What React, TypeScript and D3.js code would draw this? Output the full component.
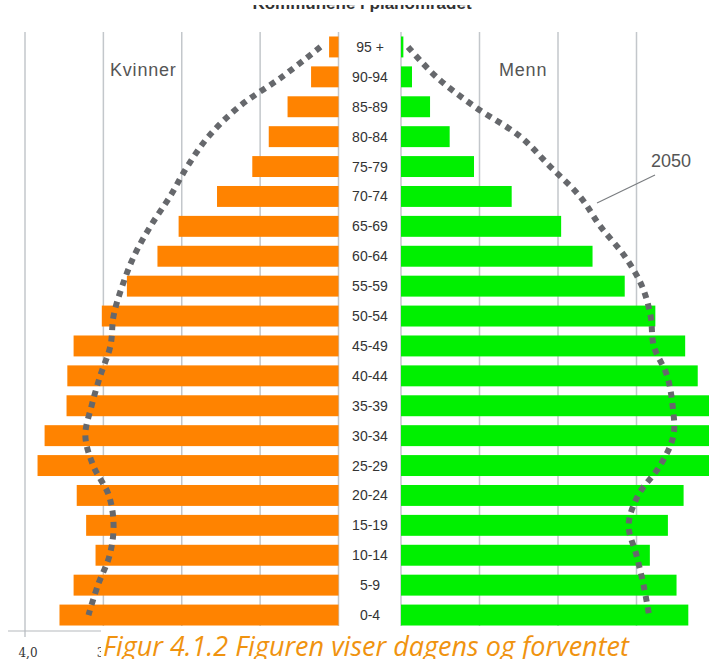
import React from "react";
import * as d3 from "d3";

const ages = ["95 +","90-94","85-89","80-84","75-79","70-74","65-69","60-64","55-59","50-54","45-49","40-44","35-39","30-34","25-29","20-24","15-19","10-14","5-9","0-4"];
const women = [0.12,0.35,0.65,0.89,1.10,1.55,2.04,2.31,2.70,3.02,3.38,3.46,3.47,3.75,3.84,3.34,3.22,3.10,3.38,3.56];
const men = [0.03,0.14,0.37,0.62,0.93,1.41,2.04,2.44,2.85,3.24,3.62,3.78,4.0,4.05,4.1,3.60,3.40,3.17,3.51,3.66];
const women2050 = [0.23,0.72,1.27,1.66,1.93,2.15,2.40,2.61,2.76,2.87,2.91,3.04,3.15,3.23,3.13,2.93,2.87,2.92,3.07,3.19];
const men2050 = [0.09,0.45,0.94,1.52,1.90,2.28,2.54,2.85,3.07,3.18,3.22,3.39,3.46,3.47,3.30,3.02,2.90,3.00,3.09,3.16];
const gridValues = [1,2,3,4];
const tickValues = [4,3];
const tickLabels = ["4,0","3,0"];
const titleText = "Kommunene i planområdet";
const captionText = "Figur 4.1.2 Figuren viser dagens og forventet";

const W = 709, H = 659;

export default function App() {
  const y = d3.scaleBand<string>().domain(ages).range([32, 630]).paddingInner(0.3).paddingOuter(0.15);
  const xl = d3.scaleLinear().domain([0, 4]).range([338.5, 25]);
  const xr = d3.scaleLinear().domain([0, 4]).range([401, 715]);
  const bw = y.bandwidth();
  const cy = (a: string) => (y(a) as number) + bw / 2;

  const lineL = d3.line<number>()
    .x((d) => xl(d))
    .y((_, i) => cy(ages[i]))
    .curve(d3.curveCatmullRom.alpha(0.5));
  const lineR = d3.line<number>()
    .x((d) => xr(d))
    .y((_, i) => cy(ages[i]))
    .curve(d3.curveCatmullRom.alpha(0.5));

  const grid = "#c3c7cb";
  return (
    <svg width={W} height={H} style={{ position: "absolute", left: 0, top: 0, background: "#fff" }}>
      <rect x={0} y={0} width={W} height={H} fill="#fff" />
      {/* title (cut off at top edge) */}
      <text x={362} y={9} textAnchor="middle" fontFamily="Liberation Sans, Arial, sans-serif" fontWeight="bold" fontSize={17} fill="#333">{titleText}</text>
      <rect x={0} y={0} width={W} height={5} fill="#fff" />

      {/* gridlines */}
      {gridValues.map((v) => (
        <line key={"gl" + v} x1={xl(v)} x2={xl(v)} y1={32} y2={v === 4 ? 637 : 630} stroke={grid} strokeWidth={1.5} />
      ))}
      {gridValues.map((v) => (
        <line key={"gr" + v} x1={xr(v)} x2={xr(v)} y1={32} y2={630} stroke={grid} strokeWidth={1.5} />
      ))}
      <line x1={xl(0)} x2={xl(0)} y1={32} y2={630} stroke={grid} strokeWidth={1.5} />
      <line x1={xr(0)} x2={xr(0)} y1={32} y2={630} stroke={grid} strokeWidth={1.5} />
      <line x1={8} x2={xl(0)} y1={631} y2={631} stroke="#b5b9bd" strokeWidth={1.2} />

      {/* bars */}
      {ages.map((a, i) => (
        <rect key={"w" + a} x={xl(women[i])} y={y(a)} width={xl(0) - xl(women[i])} height={bw} fill="#FF8300" />
      ))}
      {ages.map((a, i) => (
        <rect key={"m" + a} x={xr(0)} y={y(a)} width={xr(men[i]) - xr(0)} height={bw} fill="#00F000" />
      ))}

      {/* age labels */}
      {ages.map((a) => (
        <text key={"l" + a} x={370} y={cy(a) + 5} textAnchor="middle" fontFamily="Liberation Sans, Arial, sans-serif" fontSize={14} fill="#333">{a}</text>
      ))}

      {/* 2050 lines */}
      <path d={lineL(women2050) || ""} fill="none" stroke="#66686c" strokeWidth={6} strokeDasharray="6 5.5" />
      <path d={lineR(men2050) || ""} fill="none" stroke="#66686c" strokeWidth={6} strokeDasharray="6 5.5" />

      {/* labels */}
      <text x={110} y={76} fontFamily="Liberation Sans, Arial, sans-serif" fontSize={18} letterSpacing={0.8} fill="#555">Kvinner</text>
      <text x={499} y={76} fontFamily="Liberation Sans, Arial, sans-serif" fontSize={18} letterSpacing={0.8} fill="#555">Menn</text>
      <text x={651} y={167} fontFamily="Liberation Sans, Arial, sans-serif" fontSize={18} fill="#555">2050</text>
      <line x1={597} y1={203} x2={655} y2={175} stroke="#7a7d80" strokeWidth={1.2} />

      {/* axis tick labels */}
      {tickValues.map((v, i) => (
        <text key={"t" + v} x={xl(v) + 3} y={657} textAnchor="middle" fontFamily="DejaVu Serif, serif" fontSize={12} fill="#333">{tickLabels[i]}</text>
      ))}

      {/* caption box */}
      <rect x={101} y={626} width={W - 101} height={H - 626} fill="#fff" />
      <text x={103} y={656} fontFamily="Open Sans, sans-serif" fontStyle="italic" fontSize={27} fill="#F0930F">{captionText}</text>
    </svg>
  );
}
